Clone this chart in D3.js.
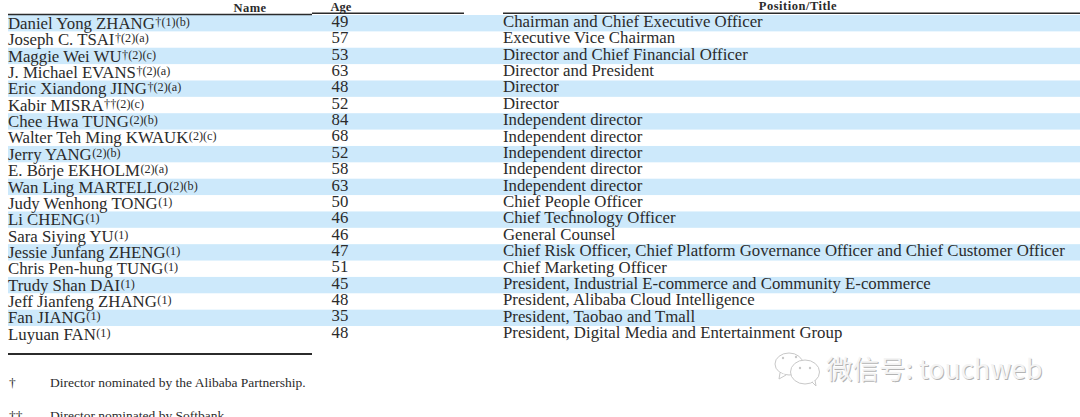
<!DOCTYPE html>
<html>
<head>
<meta charset="utf-8">
<script src="https://cdn.jsdelivr.net/npm/d3@7"></script>
<style>
  html, body { margin: 0; padding: 0; background: #fff; overflow: hidden; }
  svg { opacity: 0.999; }
  text { font-family: "Liberation Serif", serif; fill: #2b2b2b; }
</style>
</head>
<body>
<svg id="chart" width="1080" height="417"></svg>
<script>
const names = ["Daniel Yong ZHANG", "Joseph C. TSAI", "Maggie Wei WU", "J. Michael EVANS", "Eric Xiandong JING",
  "Kabir MISRA", "Chee Hwa TUNG", "Walter Teh Ming KWAUK", "Jerry YANG", "E. Börje EKHOLM", "Wan Ling MARTELLO",
  "Judy Wenhong TONG", "Li CHENG", "Sara Siying YU", "Jessie Junfang ZHENG", "Chris Pen-hung TUNG",
  "Trudy Shan DAI", "Jeff Jianfeng ZHANG", "Fan JIANG", "Luyuan FAN"];
const marks = ["†(1)(b)", "†(2)(a)", "†(2)(c)", "†(2)(a)", "†(2)(a)", "††(2)(c)", "(2)(b)", "(2)(c)", "(2)(b)", "(2)(a)", "(2)(b)",
  "(1)", "(1)", "(1)", "(1)", "(1)", "(1)", "(1)", "(1)", "(1)"];
const ages = [49, 57, 53, 63, 48, 52, 84, 68, 52, 58, 63, 50, 46, 46, 47, 51, 45, 48, 35, 48];
const titles = ["Chairman and Chief Executive Officer", "Executive Vice Chairman", "Director and Chief Financial Officer",
  "Director and President", "Director", "Director", "Independent director", "Independent director", "Independent director",
  "Independent director", "Independent director", "Chief People Officer", "Chief Technology Officer", "General Counsel",
  "Chief Risk Officer, Chief Platform Governance Officer and Chief Customer Officer", "Chief Marketing Officer",
  "President, Industrial E-commerce and Community E-commerce", "President, Alibaba Cloud Intelligence",
  "President, Taobao and Tmall", "President, Digital Media and Entertainment Group"];
const headers = ["Name", "Age", "Position/Title"];
const notes = [["†", "Director nominated by the Alibaba Partnership."], ["††", "Director nominated by Softbank."]];

const svg = d3.select("#chart");

// rows
const y = d3.scaleBand().domain(d3.range(names.length)).range([15, 342.4]).padding(0);

svg.selectAll(".stripe")
  .data(names.filter((d, i) => i % 2 == 0))
  .enter()
  .append("rect")
  .attr("class", "stripe")
  .attr("x", 8)
  .attr("y", d => y(names.indexOf(d)))
  .attr("width", 1072)
  .attr("height", y.bandwidth())
  .attr("fill", "#cde9fb");

// header and rules
svg.selectAll(".head")
  .data(headers)
  .enter()
  .append("text")
  .attr("class", "head")
  .attr("x", (d, i) => [250, 341, 798][i])
  .attr("y", (d, i) => [12, 10.5, 10][i])
  .attr("text-anchor", "middle")
  .attr("font-size", (d, i) => i == 1 ? 12.5 : 12.5)
  .attr("letter-spacing", (d, i) => i == 1 ? 0 : 0.5)
  .attr("font-weight", "bold")
  .text(d => d);

const rules = [[8, 312, 14.5, 1.6], [312, 464, 13.3, 1.4], [503, 1080, 13.3, 1.4], [8, 312, 354, 2]];
svg.selectAll(".rule")
  .data(rules)
  .enter()
  .append("line")
  .attr("class", "rule")
  .attr("x1", d => d[0])
  .attr("x2", d => d[1])
  .attr("y1", d => d[2])
  .attr("y2", d => d[2])
  .attr("stroke", "#2b2b2b")
  .attr("stroke-width", d => d[3]);

// name column, with the superscript marks as a tspan
const nameText = svg.selectAll(".name")
  .data(names)
  .enter()
  .append("text")
  .attr("class", "name")
  .attr("x", 8)
  .attr("y", (d, i) => y(i) + 13.8)
  .attr("font-size", 16.8)
  .text(d => d);
nameText.append("tspan")
  .attr("font-size", 12.2)
  .attr("dy", -3)
  .attr("dx", 0.5)
  .text((d, i) => marks[i]);

svg.selectAll(".age")
  .data(ages)
  .enter()
  .append("text")
  .attr("class", "age")
  .attr("x", 340)
  .attr("y", (d, i) => y(i) + 11.8)
  .attr("text-anchor", "middle")
  .attr("font-size", 16.8)
  .text(d => d);

svg.selectAll(".title")
  .data(titles)
  .enter()
  .append("text")
  .attr("class", "title")
  .attr("x", 503)
  .attr("y", (d, i) => y(i) + 12)
  .attr("font-size", 16.8)
  .text(d => d);

// footnotes, the second one is cut by the bottom edge in the original too
const noteY = [386.5, 420];
notes.forEach((n, i) => {
  svg.append("text").attr("x", 9).attr("y", noteY[i]).attr("font-size", 13.5).text(n[0]);
  svg.append("text").attr("x", 50).attr("y", noteY[i]).attr("font-size", 13.5).text(n[1]);
});

// watermark: grey copy under a white copy gives the embossed look
const wm = svg.append("g").attr("fill", "#fff").attr("stroke", "#c8c8c8").attr("stroke-width", 1);
wm.append("ellipse").attr("cx", 789).attr("cy", 364).attr("rx", 14).attr("ry", 11);
wm.append("path").attr("d", "M780 373 L779 379 L786 375");
wm.append("ellipse").attr("cx", 805).attr("cy", 372).attr("rx", 14.5).attr("ry", 12);
wm.append("path").attr("d", "M812 382 L816 386 L815 380");
wm.selectAll(".eye")
  .data([[783, 358], [796, 357], [800, 368], [810, 368]])
  .enter()
  .append("circle")
  .attr("class", "eye")
  .attr("cx", d => d[0])
  .attr("cy", d => d[1])
  .attr("r", 1.2)
  .attr("fill", "#c8c8c8")
  .attr("stroke", "none");

[[1, 1, "#b4b4b4"], [0, 0, "#f4f4f4"]].forEach(s => {
  svg.append("text")
    .attr("x", 826 + s[0])
    .attr("y", 379 + s[1])
    .attr("font-size", 26.5)
    .style("font-family", '"Noto Sans CJK SC", sans-serif')
    .style("fill", s[2])
    .text("微信号: touchweb");
});
</script>
</body>
</html>
